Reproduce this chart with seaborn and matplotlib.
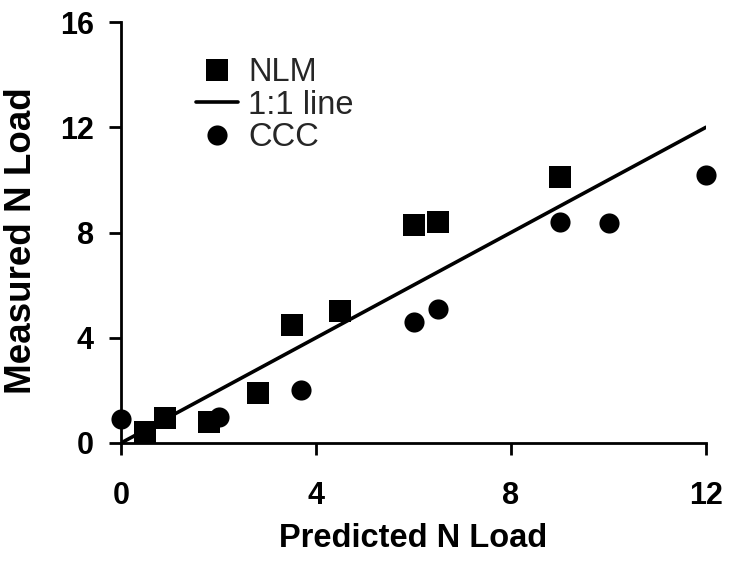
import matplotlib
matplotlib.use('Agg')
import matplotlib.pyplot as plt
import seaborn as sns

#----------------------------------------------------------------------------------------------------------------------#
# Data
#----------------------------------------------------------------------------------------------------------------------#

nlm_pred = [0.5, 0.9, 1.8, 2.8, 3.5, 4.5, 6.0, 6.5, 9.0]
nlm_meas = [0.4, 0.95, 0.8, 1.9, 4.5, 5.0, 8.3, 8.4, 10.1]

ccc_pred = [0.0, 2.0, 3.7, 6.0, 6.5, 9.0, 10.0, 12.0]
ccc_meas = [0.9, 1.0, 2.0, 4.6, 5.1, 8.4, 8.35, 10.2]

one_to_one = [0, 12]

x_ticks = [0, 4, 8, 12]
y_ticks = [0, 4, 8, 12, 16]

#----------------------------------------------------------------------------------------------------------------------#
# Plot
#----------------------------------------------------------------------------------------------------------------------#

sns.set_theme(style='ticks')
plt.rcParams['font.family'] = ['Liberation Sans', 'DejaVu Sans']

W, H = 731, 567
fig = plt.figure(figsize=(W / 100, H / 100), dpi=100)
ax = fig.add_axes([121 / W, 1 - 443 / H, (706 - 121) / W, (443 - 22) / H])

sns.scatterplot(x=nlm_pred, y=nlm_meas, marker='s', s=240, color='black', edgecolor='black',
                linewidth=0, label='NLM', clip_on=False, zorder=3, ax=ax)
sns.lineplot(x=one_to_one, y=one_to_one, color='black', linewidth=2.6, label='1:1 line', ax=ax)
sns.scatterplot(x=ccc_pred, y=ccc_meas, marker='o', s=210, color='black', edgecolor='black',
                linewidth=0, label='CCC', clip_on=False, zorder=3, ax=ax)

ax.set_xlim(0, 12)
ax.set_ylim(0, 16)
ax.set_xticks(x_ticks, [str(t) for t in x_ticks], fontweight='bold')
ax.set_yticks(y_ticks, [str(t) for t in y_ticks], fontweight='bold')
ax.tick_params(axis='x', length=8.5, width=2, pad=19, labelsize=22, color='black', labelcolor='black')
ax.tick_params(axis='y', length=8.5, width=2, pad=11, labelsize=22, color='black', labelcolor='black')
sns.despine(ax=ax)
for side in ['left', 'bottom']:
    ax.spines[side].set_linewidth(2)
    ax.spines[side].set_color('black')

ax.set_xlabel('Predicted N Load', fontsize=23.5, fontweight='bold', color='black')
ax.set_ylabel('Measured N Load', fontsize=26.5, fontweight='bold', color='black')
ax.xaxis.set_label_coords(0.5, -0.19)
ax.yaxis.set_label_coords(-0.14, 0.48)

ax.legend(loc='upper left', bbox_to_anchor=(196 / W, 1 - 57 / H), bbox_transform=fig.transFigure,
          frameon=False, fontsize=23.5, handlelength=1.3, handletextpad=0.3, labelspacing=0.05,
          borderpad=0, borderaxespad=0, scatteryoffsets=[0.5])

fig.savefig('out.png', dpi=100, facecolor='white')
